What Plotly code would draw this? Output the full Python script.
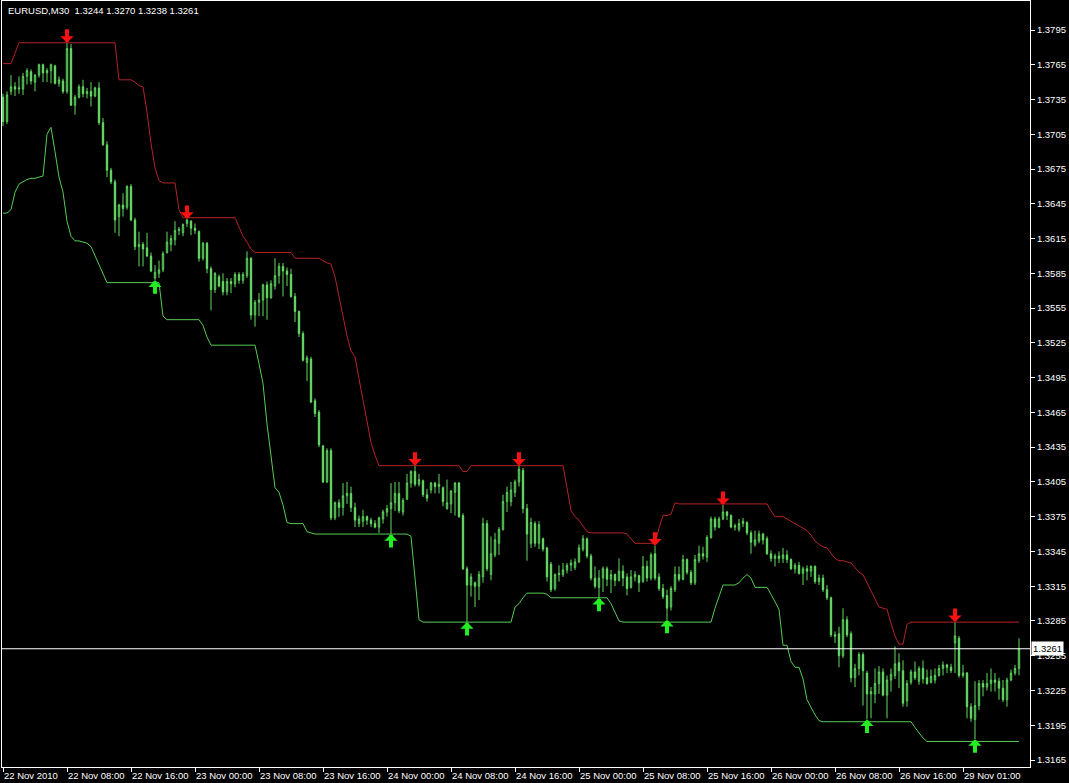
import plotly.graph_objects as go

symbol_text = "EURUSD,M30"

open_ = [
    1.3737, 1.3716, 1.3742, 1.3746, 1.3744, 1.3744, 1.3755, 1.3759, 1.3750, 1.3756,
    1.3765, 1.3758, 1.3760, 1.3764, 1.3749, 1.3751, 1.3742, 1.3779, 1.3730, 1.3737,
    1.3746, 1.3740, 1.3742, 1.3738, 1.3745, 1.3715, 1.3696, 1.3674, 1.3664, 1.3634,
    1.3644, 1.3642, 1.3660, 1.3631, 1.3608, 1.3610, 1.3607, 1.3600, 1.3581, 1.3585,
    1.3588, 1.3603, 1.3610, 1.3614, 1.3622, 1.3620, 1.3628, 1.3630, 1.3624, 1.3621,
    1.3598, 1.3611, 1.3589, 1.3571, 1.3582, 1.3578, 1.3569, 1.3578, 1.3576, 1.3584,
    1.3579, 1.3583, 1.3598, 1.3549, 1.3560, 1.3562, 1.3575, 1.3564, 1.3574, 1.3583,
    1.3591, 1.3587, 1.3584, 1.3565, 1.3552, 1.3533, 1.3508, 1.3511, 1.3475, 1.3465,
    1.3436, 1.3405, 1.3432, 1.3374, 1.3387, 1.3383, 1.3393, 1.3395, 1.3383, 1.3369,
    1.3371, 1.3375, 1.3372, 1.3369, 1.3366, 1.3373, 1.3379, 1.3382, 1.3387, 1.3395,
    1.3379, 1.3390, 1.3404, 1.3414, 1.3403, 1.3406, 1.3394, 1.3398, 1.3404, 1.3401,
    1.3400, 1.3382, 1.3386, 1.3396, 1.3404, 1.3376, 1.3330, 1.3316, 1.3318, 1.3315,
    1.3323, 1.3369, 1.3325, 1.3342, 1.3352, 1.3364, 1.3388, 1.3388, 1.3396, 1.3405,
    1.3415, 1.3382, 1.3352, 1.3369, 1.3352, 1.3356, 1.3348, 1.3334, 1.3313, 1.3325,
    1.3325, 1.3329, 1.3333, 1.3331, 1.3336, 1.3347, 1.3356, 1.3341, 1.3322, 1.3314,
    1.3322, 1.3330, 1.3321, 1.3325, 1.3320, 1.3328, 1.3323, 1.3314, 1.3323, 1.3324,
    1.3319, 1.3332, 1.3322, 1.3343, 1.3323, 1.3313, 1.3307, 1.3297, 1.3312, 1.3325,
    1.3321, 1.3338, 1.3327, 1.3318, 1.3337, 1.3343, 1.3340, 1.3357, 1.3373, 1.3366,
    1.3373, 1.3379, 1.3376, 1.3366, 1.3364, 1.3369, 1.3370, 1.3361, 1.3351, 1.3354,
    1.3360, 1.3356, 1.3343, 1.3339, 1.3341, 1.3339, 1.3342, 1.3338, 1.3330, 1.3333,
    1.3326, 1.3330, 1.3328, 1.3332, 1.3319, 1.3322, 1.3312, 1.3305, 1.3273, 1.3274,
    1.3255, 1.3286, 1.3274, 1.3236, 1.3244, 1.3256, 1.3240, 1.3222, 1.3222, 1.3231,
    1.3241, 1.3221, 1.3234, 1.3238, 1.3249, 1.3242, 1.3216, 1.3232, 1.3241, 1.3233,
    1.3244, 1.3236, 1.3232, 1.3234, 1.3238, 1.3244, 1.3247, 1.3245, 1.3266, 1.3270,
    1.3238, 1.3240, 1.3211, 1.3200, 1.3212, 1.3231, 1.3228, 1.3231, 1.3234, 1.3233,
    1.3227, 1.3217, 1.3234, 1.3240, 1.3244,
]

high = [
    1.3740, 1.3742, 1.3756, 1.3750, 1.3755, 1.3758, 1.3762, 1.3761, 1.3757, 1.3766,
    1.3766, 1.3762, 1.3766, 1.3765, 1.3755, 1.3753, 1.3784, 1.3783, 1.3739, 1.3748,
    1.3752, 1.3745, 1.3750, 1.3746, 1.3750, 1.3719, 1.3699, 1.3676, 1.3666, 1.3645,
    1.3654, 1.3661, 1.3662, 1.3633, 1.3621, 1.3612, 1.3620, 1.3603, 1.3592, 1.3596,
    1.3604, 1.3621, 1.3618, 1.3630, 1.3625, 1.3628, 1.3632, 1.3631, 1.3628, 1.3622,
    1.3612, 1.3612, 1.3591, 1.3586, 1.3584, 1.3585, 1.3581, 1.3581, 1.3586, 1.3586,
    1.3586, 1.3604, 1.3599, 1.3562, 1.3568, 1.3576, 1.3578, 1.3579, 1.3598, 1.3594,
    1.3594, 1.3590, 1.3589, 1.3568, 1.3553, 1.3535, 1.3514, 1.3513, 1.3477, 1.3467,
    1.3437, 1.3434, 1.3434, 1.3388, 1.3390, 1.3404, 1.3405, 1.3401, 1.3387, 1.3376,
    1.3381, 1.3376, 1.3374, 1.3372, 1.3375, 1.3381, 1.3385, 1.3404, 1.3405, 1.3405,
    1.3391, 1.3412, 1.3415, 1.3419, 1.3412, 1.3407, 1.3399, 1.3405, 1.3405, 1.3412,
    1.3401, 1.3407, 1.3398, 1.3405, 1.3405, 1.3378, 1.3332, 1.3326, 1.3319, 1.3328,
    1.3374, 1.3372, 1.3358, 1.3361, 1.3366, 1.3394, 1.3401, 1.3405, 1.3407, 1.3419,
    1.3417, 1.3386, 1.3374, 1.3371, 1.3371, 1.3357, 1.3349, 1.3336, 1.3326, 1.3333,
    1.3335, 1.3335, 1.3338, 1.3339, 1.3351, 1.3359, 1.3357, 1.3343, 1.3332, 1.3329,
    1.3332, 1.3332, 1.3329, 1.3326, 1.3339, 1.3333, 1.3326, 1.3329, 1.3328, 1.3325,
    1.3341, 1.3337, 1.3344, 1.3350, 1.3326, 1.3317, 1.3312, 1.3315, 1.3332, 1.3332,
    1.3342, 1.3339, 1.3329, 1.3342, 1.3350, 1.3349, 1.3359, 1.3375, 1.3375, 1.3375,
    1.3385, 1.3380, 1.3377, 1.3369, 1.3373, 1.3374, 1.3371, 1.3363, 1.3363, 1.3363,
    1.3361, 1.3358, 1.3346, 1.3343, 1.3345, 1.3348, 1.3346, 1.3339, 1.3335, 1.3336,
    1.3332, 1.3333, 1.3333, 1.3333, 1.3325, 1.3325, 1.3316, 1.3306, 1.3276, 1.3280,
    1.3296, 1.3289, 1.3276, 1.3248, 1.3258, 1.3258, 1.3242, 1.3228, 1.3244, 1.3246,
    1.3244, 1.3238, 1.3244, 1.3263, 1.3257, 1.3251, 1.3234, 1.3243, 1.3250, 1.3246,
    1.3251, 1.3243, 1.3243, 1.3244, 1.3247, 1.3250, 1.3248, 1.3248, 1.3284, 1.3272,
    1.3247, 1.3241, 1.3214, 1.3233, 1.3234, 1.3234, 1.3240, 1.3244, 1.3240, 1.3236,
    1.3234, 1.3236, 1.3243, 1.3247, 1.3270,
]

low = [
    1.3712, 1.3714, 1.3739, 1.3738, 1.3740, 1.3739, 1.3748, 1.3748, 1.3742, 1.3754,
    1.3750, 1.3750, 1.3749, 1.3748, 1.3746, 1.3740, 1.3740, 1.3730, 1.3722, 1.3736,
    1.3737, 1.3736, 1.3729, 1.3737, 1.3713, 1.3695, 1.3668, 1.3662, 1.3620, 1.3617,
    1.3634, 1.3640, 1.3630, 1.3605, 1.3591, 1.3591, 1.3599, 1.3586, 1.3579, 1.3581,
    1.3586, 1.3602, 1.3604, 1.3609, 1.3618, 1.3617, 1.3625, 1.3618, 1.3619, 1.3595,
    1.3596, 1.3585, 1.3553, 1.3568, 1.3573, 1.3566, 1.3566, 1.3568, 1.3573, 1.3576,
    1.3576, 1.3581, 1.3545, 1.3539, 1.3548, 1.3548, 1.3545, 1.3563, 1.3571, 1.3576,
    1.3565, 1.3574, 1.3564, 1.3543, 1.3530, 1.3509, 1.3492, 1.3473, 1.3461, 1.3435,
    1.3404, 1.3404, 1.3372, 1.3372, 1.3375, 1.3376, 1.3386, 1.3379, 1.3366, 1.3366,
    1.3366, 1.3368, 1.3366, 1.3365, 1.3361, 1.3369, 1.3375, 1.3360, 1.3380, 1.3378,
    1.3376, 1.3390, 1.3400, 1.3401, 1.3401, 1.3392, 1.3388, 1.3395, 1.3395, 1.3395,
    1.3384, 1.3381, 1.3378, 1.3376, 1.3374, 1.3329, 1.3284, 1.3306, 1.3297, 1.3303,
    1.3318, 1.3328, 1.3320, 1.3340, 1.3342, 1.3363, 1.3379, 1.3384, 1.3392, 1.3401,
    1.3378, 1.3337, 1.3348, 1.3349, 1.3347, 1.3345, 1.3319, 1.3310, 1.3311, 1.3319,
    1.3323, 1.3326, 1.3328, 1.3329, 1.3335, 1.3345, 1.3339, 1.3320, 1.3313, 1.3305,
    1.3310, 1.3315, 1.3309, 1.3315, 1.3319, 1.3315, 1.3307, 1.3313, 1.3319, 1.3310,
    1.3318, 1.3319, 1.3320, 1.3320, 1.3311, 1.3304, 1.3286, 1.3294, 1.3310, 1.3319,
    1.3320, 1.3325, 1.3316, 1.3316, 1.3335, 1.3338, 1.3336, 1.3356, 1.3363, 1.3365,
    1.3372, 1.3372, 1.3365, 1.3363, 1.3362, 1.3366, 1.3359, 1.3343, 1.3349, 1.3352,
    1.3351, 1.3342, 1.3336, 1.3332, 1.3335, 1.3335, 1.3335, 1.3329, 1.3326, 1.3325,
    1.3316, 1.3320, 1.3323, 1.3317, 1.3316, 1.3310, 1.3303, 1.3271, 1.3266, 1.3245,
    1.3253, 1.3271, 1.3232, 1.3228, 1.3238, 1.3212, 1.3200, 1.3201, 1.3214, 1.3222,
    1.3220, 1.3201, 1.3224, 1.3235, 1.3227, 1.3211, 1.3211, 1.3230, 1.3234, 1.3230,
    1.3231, 1.3230, 1.3231, 1.3231, 1.3237, 1.3238, 1.3240, 1.3240, 1.3240, 1.3236,
    1.3236, 1.3201, 1.3198, 1.3183, 1.3208, 1.3220, 1.3225, 1.3224, 1.3224, 1.3217,
    1.3215, 1.3211, 1.3233, 1.3238, 1.3238,
]

close = [
    1.3716, 1.3739, 1.3746, 1.3744, 1.3745, 1.3755, 1.3760, 1.3751, 1.3756, 1.3765,
    1.3758, 1.3760, 1.3765, 1.3749, 1.3752, 1.3742, 1.3779, 1.3730, 1.3737, 1.3746,
    1.3740, 1.3742, 1.3738, 1.3745, 1.3715, 1.3696, 1.3674, 1.3664, 1.3631, 1.3644,
    1.3641, 1.3660, 1.3631, 1.3608, 1.3610, 1.3606, 1.3600, 1.3587, 1.3586, 1.3588,
    1.3602, 1.3612, 1.3615, 1.3622, 1.3623, 1.3627, 1.3631, 1.3624, 1.3622, 1.3598,
    1.3611, 1.3589, 1.3571, 1.3585, 1.3574, 1.3569, 1.3578, 1.3576, 1.3584, 1.3579,
    1.3584, 1.3598, 1.3549, 1.3560, 1.3562, 1.3575, 1.3564, 1.3576, 1.3583, 1.3591,
    1.3587, 1.3584, 1.3565, 1.3552, 1.3533, 1.3510, 1.3512, 1.3474, 1.3464, 1.3437,
    1.3405, 1.3432, 1.3374, 1.3387, 1.3383, 1.3393, 1.3395, 1.3383, 1.3372, 1.3373,
    1.3375, 1.3372, 1.3369, 1.3366, 1.3374, 1.3379, 1.3382, 1.3387, 1.3395, 1.3380,
    1.3389, 1.3404, 1.3414, 1.3403, 1.3407, 1.3394, 1.3391, 1.3404, 1.3401, 1.3403,
    1.3388, 1.3387, 1.3397, 1.3404, 1.3375, 1.3330, 1.3316, 1.3323, 1.3315, 1.3325,
    1.3369, 1.3330, 1.3343, 1.3355, 1.3364, 1.3388, 1.3396, 1.3398, 1.3405, 1.3416,
    1.3382, 1.3360, 1.3370, 1.3352, 1.3368, 1.3347, 1.3323, 1.3312, 1.3325, 1.3326,
    1.3329, 1.3333, 1.3335, 1.3336, 1.3348, 1.3356, 1.3341, 1.3322, 1.3315, 1.3322,
    1.3330, 1.3321, 1.3325, 1.3320, 1.3328, 1.3322, 1.3313, 1.3323, 1.3325, 1.3318,
    1.3332, 1.3322, 1.3342, 1.3322, 1.3313, 1.3306, 1.3296, 1.3313, 1.3325, 1.3321,
    1.3338, 1.3327, 1.3318, 1.3338, 1.3343, 1.3341, 1.3357, 1.3373, 1.3366, 1.3373,
    1.3379, 1.3376, 1.3366, 1.3367, 1.3369, 1.3371, 1.3361, 1.3353, 1.3355, 1.3360,
    1.3355, 1.3343, 1.3339, 1.3341, 1.3339, 1.3342, 1.3338, 1.3330, 1.3333, 1.3326,
    1.3330, 1.3328, 1.3332, 1.3319, 1.3322, 1.3312, 1.3305, 1.3273, 1.3272, 1.3255,
    1.3286, 1.3273, 1.3236, 1.3244, 1.3256, 1.3242, 1.3222, 1.3224, 1.3231, 1.3241,
    1.3221, 1.3234, 1.3239, 1.3248, 1.3242, 1.3214, 1.3231, 1.3241, 1.3236, 1.3244,
    1.3235, 1.3231, 1.3237, 1.3238, 1.3244, 1.3247, 1.3245, 1.3242, 1.3272, 1.3238,
    1.3240, 1.3211, 1.3201, 1.3212, 1.3231, 1.3228, 1.3231, 1.3234, 1.3232, 1.3227,
    1.3217, 1.3234, 1.3240, 1.3244, 1.3261,
]

upper_band = [
    1.3766, 1.3766, 1.3766, 1.3775, 1.3784, 1.3784, 1.3784, 1.3784, 1.3784, 1.3784,
    1.3784, 1.3784, 1.3784, 1.3784, 1.3784, 1.3784, 1.3784, 1.3784, 1.3784, 1.3784,
    1.3784, 1.3784, 1.3784, 1.3784, 1.3784, 1.3784, 1.3784, 1.3784, 1.3784, 1.3752,
    1.3752, 1.3752, 1.3752, 1.3750, 1.3747, 1.3746, 1.3724, 1.3697, 1.3676, 1.3665,
    1.3663, 1.3663, 1.3663, 1.3663, 1.3640, 1.3633, 1.3633, 1.3633, 1.3633, 1.3633,
    1.3633, 1.3633, 1.3633, 1.3633, 1.3633, 1.3633, 1.3633, 1.3633, 1.3633, 1.3625,
    1.3617, 1.3612, 1.3606, 1.3603, 1.3603, 1.3603, 1.3603, 1.3603, 1.3603, 1.3603,
    1.3603, 1.3603, 1.3603, 1.3598, 1.3598, 1.3598, 1.3598, 1.3598, 1.3598, 1.3598,
    1.3596, 1.3594, 1.3593, 1.3582, 1.3565, 1.3548, 1.3531, 1.3518, 1.3513, 1.3494,
    1.3476, 1.3458, 1.3439, 1.3428, 1.3419, 1.3419, 1.3419, 1.3419, 1.3419, 1.3419,
    1.3419, 1.3419, 1.3419, 1.3419, 1.3419, 1.3419, 1.3419, 1.3419, 1.3419, 1.3419,
    1.3419, 1.3419, 1.3419, 1.3419, 1.3419, 1.3414, 1.3414, 1.3419, 1.3419, 1.3419,
    1.3419, 1.3419, 1.3419, 1.3419, 1.3419, 1.3419, 1.3419, 1.3419, 1.3419, 1.3419,
    1.3419, 1.3419, 1.3419, 1.3419, 1.3419, 1.3419, 1.3419, 1.3419, 1.3419, 1.3419,
    1.3419, 1.3400, 1.3380, 1.3375, 1.3372, 1.3367, 1.3362, 1.3361, 1.3361, 1.3361,
    1.3361, 1.3361, 1.3361, 1.3361, 1.3361, 1.3361, 1.3360, 1.3356, 1.3352, 1.3352,
    1.3352, 1.3352, 1.3352, 1.3352, 1.3365, 1.3376, 1.3376, 1.3377, 1.3387, 1.3386,
    1.3386, 1.3386, 1.3386, 1.3386, 1.3386, 1.3386, 1.3386, 1.3386, 1.3386, 1.3386,
    1.3386, 1.3386, 1.3386, 1.3386, 1.3386, 1.3386, 1.3386, 1.3386, 1.3386, 1.3386,
    1.3386, 1.3386, 1.3380, 1.3375, 1.3375, 1.3375, 1.3373, 1.3371, 1.3369, 1.3367,
    1.3365, 1.3363, 1.3359, 1.3354, 1.3351, 1.3349, 1.3348, 1.3343, 1.3339, 1.3337,
    1.3337, 1.3336, 1.3335, 1.3331, 1.3327, 1.3325, 1.3318, 1.3312, 1.3304, 1.3297,
    1.3296, 1.3295, 1.3283, 1.3272, 1.3265, 1.3265, 1.3282, 1.3284, 1.3284, 1.3284,
    1.3284, 1.3284, 1.3284, 1.3284, 1.3284, 1.3284, 1.3284, 1.3284, 1.3284, 1.3284,
    1.3284, 1.3284, 1.3284, 1.3284, 1.3284, 1.3284, 1.3284, 1.3284, 1.3284, 1.3284,
    1.3284, 1.3284, 1.3284, 1.3284, 1.3284,
]

lower_band = [
    1.3637, 1.3637, 1.3640, 1.3655, 1.3662, 1.3664, 1.3666, 1.3667, 1.3667, 1.3668,
    1.3669, 1.3705, 1.3711, 1.3690, 1.3668, 1.3655, 1.3630, 1.3617, 1.3613, 1.3613,
    1.3612, 1.3611, 1.3608, 1.3600, 1.3592, 1.3585, 1.3577, 1.3577, 1.3577, 1.3577,
    1.3577, 1.3577, 1.3577, 1.3577, 1.3577, 1.3577, 1.3577, 1.3577, 1.3577, 1.3577,
    1.3548, 1.3545, 1.3545, 1.3545, 1.3545, 1.3545, 1.3545, 1.3545, 1.3545, 1.3545,
    1.3540, 1.3530, 1.3523, 1.3523, 1.3523, 1.3523, 1.3523, 1.3523, 1.3523, 1.3523,
    1.3523, 1.3523, 1.3523, 1.3523, 1.3507, 1.3490, 1.3455, 1.3425, 1.3400, 1.3396,
    1.3385, 1.3370, 1.3369, 1.3369, 1.3369, 1.3369, 1.3362, 1.3361, 1.3360, 1.3360,
    1.3360, 1.3360, 1.3360, 1.3360, 1.3360, 1.3360, 1.3360, 1.3360, 1.3360, 1.3360,
    1.3360, 1.3360, 1.3360, 1.3360, 1.3360, 1.3360, 1.3360, 1.3360, 1.3360, 1.3360,
    1.3360, 1.3360, 1.3358, 1.3320, 1.3286, 1.3284, 1.3284, 1.3284, 1.3284, 1.3284,
    1.3284, 1.3284, 1.3284, 1.3284, 1.3284, 1.3284, 1.3284, 1.3284, 1.3284, 1.3284,
    1.3284, 1.3284, 1.3284, 1.3284, 1.3284, 1.3284, 1.3284, 1.3284, 1.3297, 1.3300,
    1.3305, 1.3309, 1.3309, 1.3309, 1.3309, 1.3309, 1.3308, 1.3305, 1.3305, 1.3305,
    1.3305, 1.3305, 1.3305, 1.3305, 1.3305, 1.3305, 1.3305, 1.3305, 1.3305, 1.3305,
    1.3305, 1.3305, 1.3300, 1.3292, 1.3285, 1.3284, 1.3284, 1.3284, 1.3284, 1.3284,
    1.3284, 1.3284, 1.3284, 1.3284, 1.3284, 1.3284, 1.3284, 1.3284, 1.3284, 1.3284,
    1.3284, 1.3284, 1.3284, 1.3284, 1.3284, 1.3284, 1.3284, 1.3284, 1.3296, 1.3306,
    1.3316, 1.3316, 1.3316, 1.3316, 1.3318, 1.3322, 1.3325, 1.3322, 1.3314, 1.3314,
    1.3314, 1.3314, 1.3308, 1.3301, 1.3295, 1.3264, 1.3264, 1.3250, 1.3245, 1.3245,
    1.3235, 1.3217, 1.3210, 1.3204, 1.3199, 1.3198, 1.3198, 1.3198, 1.3198, 1.3198,
    1.3198, 1.3198, 1.3198, 1.3198, 1.3198, 1.3198, 1.3198, 1.3198, 1.3198, 1.3198,
    1.3198, 1.3198, 1.3198, 1.3198, 1.3198, 1.3198, 1.3198, 1.3198, 1.3193, 1.3188,
    1.3184, 1.3181, 1.3181, 1.3181, 1.3181, 1.3181, 1.3181, 1.3181, 1.3181, 1.3181,
    1.3181, 1.3181, 1.3181, 1.3181, 1.3181, 1.3181, 1.3181, 1.3181, 1.3181, 1.3181,
    1.3181, 1.3181, 1.3181, 1.3181, 1.3181,
]

sell_signal_bars = [16, 46, 103, 129, 163, 180, 238]
buy_signal_bars = [38, 97, 116, 149, 166, 216, 243]

time_tick_bars = [0, 16, 32, 48, 64, 80, 96, 112, 128, 144, 160, 176, 192, 208, 224, 240]
time_tick_labels = [
    "22 Nov 2010", "22 Nov 08:00", "22 Nov 16:00", "23 Nov 00:00", "23 Nov 08:00",
    "23 Nov 16:00", "24 Nov 00:00", "24 Nov 08:00", "24 Nov 16:00", "25 Nov 00:00",
    "25 Nov 08:00", "25 Nov 16:00", "26 Nov 00:00", "26 Nov 08:00", "26 Nov 16:00",
    "29 Nov 01:00",
]
price_ticks = [1.3165, 1.3195, 1.3225, 1.3255, 1.3285, 1.3315, 1.3345, 1.3375,
               1.3405, 1.3435, 1.3465, 1.3495, 1.3525, 1.3555, 1.3585, 1.3615,
               1.3645, 1.3675, 1.3705, 1.3735, 1.3765, 1.3795]

FONT = "Liberation Sans, Arial, sans-serif"
CANDLE_LINE = "#62da62"
BEAR_FILL = "#a8f2a8"

bars = list(range(len(close)))

fig = go.Figure()
fig.add_trace(go.Candlestick(
    x=bars, open=open_, high=high, low=low, close=close,
    increasing=dict(line=dict(color=CANDLE_LINE, width=1), fillcolor="#000000"),
    decreasing=dict(line=dict(color=CANDLE_LINE, width=1), fillcolor=BEAR_FILL),
    whiskerwidth=0, hoverinfo="none", showlegend=False,
))
fig.add_trace(go.Scatter(x=bars, y=upper_band, mode="lines",
                         line=dict(color="#b42424", width=1), hoverinfo="skip", showlegend=False))
fig.add_trace(go.Scatter(x=bars, y=lower_band, mode="lines",
                         line=dict(color="#55cc55", width=1), hoverinfo="skip", showlegend=False))

# signal arrows
for b in sell_signal_bars:
    fig.add_annotation(x=b, y=high[b], text="", showarrow=True, ax=0, ay=-15,
                       arrowhead=1, arrowsize=0.55, arrowwidth=4, arrowcolor="#ff1010",
                       standoff=0, font=dict(size=1))
for b in buy_signal_bars:
    fig.add_annotation(x=b, y=low[b], text="", showarrow=True, ax=0, ay=15,
                       arrowhead=1, arrowsize=0.55, arrowwidth=4, arrowcolor="#22ee22",
                       standoff=0, font=dict(size=1))

last = len(close) - 1
# current price line + label
fig.add_shape(type="line", xref="paper", x0=0, x1=1, y0=close[last], y1=close[last],
              line=dict(color="#ffffff", width=1))
fig.add_annotation(xref="paper", x=1, y=close[last], xanchor="left", yanchor="middle",
                   text=f"{close[last]:.4f}", showarrow=False, xshift=1,
                   bgcolor="#ffffff", font=dict(family=FONT, size=9.5, color="#000000"),
                   borderpad=1)
# header
header = (symbol_text + "\u00a0\u00a0" +
          f"{open_[last]:.4f} {high[last]:.4f} {low[last]:.4f} {close[last]:.4f}")
fig.add_annotation(xref="paper", yref="paper", x=0, y=1, xanchor="left", yanchor="top",
                   xshift=4, yshift=-2, text=header, showarrow=False,
                   font=dict(family=FONT, size=9.5, color="#ffffff"))

fig.update_layout(
    width=1069, height=783,
    margin=dict(l=2, r=39, t=1, b=16, autoexpand=False),
    paper_bgcolor="#000000", plot_bgcolor="#000000",
    boxgap=0.5, hovermode=False, showlegend=False,
    font=dict(family=FONT, size=9.5, color="#ffffff"),
    xaxis=dict(
        range=[-0.25, 256.75], rangeslider=dict(visible=False),
        tickmode="array", tickvals=time_tick_bars, ticktext=time_tick_labels,
        ticks="outside", ticklen=4, tickcolor="#ffffff", ticklabelposition="outside right",
        tickangle=0, automargin=False,
        showgrid=False, zeroline=False, showline=True, mirror=True,
        linecolor="#ffffff", linewidth=1,
        tickfont=dict(family=FONT, size=9.5, color="#ffffff"), fixedrange=True,
    ),
    yaxis=dict(
        side="right", range=[1.315896, 1.382003], automargin=False,
        tickmode="array", tickvals=price_ticks,
        ticktext=[f"{v:.4f}" for v in price_ticks],
        ticks="outside", ticklen=4, tickcolor="#ffffff",
        showgrid=False, zeroline=False, showline=True, mirror=True,
        linecolor="#ffffff", linewidth=1,
        tickfont=dict(family=FONT, size=9.5, color="#ffffff"), fixedrange=True,
    ),
)

fig.write_html(
    "out.html",
    config={"displayModeBar": False},
    post_script="document.body.style.margin='0';document.body.style.background='#000';",
)
